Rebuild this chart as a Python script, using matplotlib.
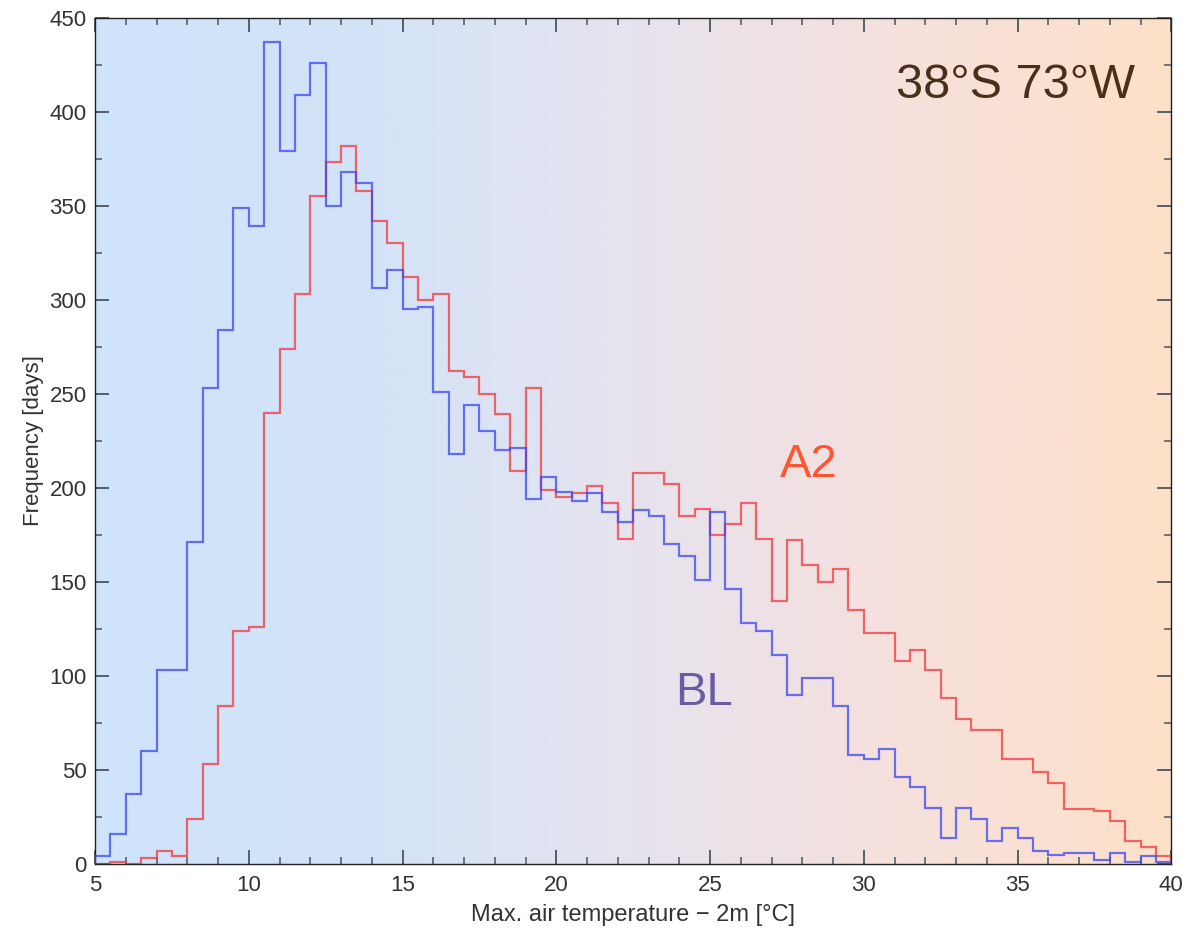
import numpy as np
import matplotlib
matplotlib.use("Agg")
import matplotlib.pyplot as plt
from matplotlib.colors import LinearSegmentedColormap
from matplotlib.ticker import MultipleLocator

plt.rcParams['font.family'] = ['Liberation Sans', 'DejaVu Sans']

# Histogram bins: 0.5 °C wide, from 5 to 40 °C
bin_edges = np.arange(5.0, 40.0 + 0.25, 0.5)

# Baseline (BL) daily max temperature frequencies
bl_counts = [4, 16, 37, 60, 103, 103, 171, 253, 284, 349,
             339, 437, 379, 409, 426, 350, 368, 362, 306, 316,
             295, 296, 251, 218, 244, 230, 220, 221, 194, 206,
             198, 193, 197, 187, 182, 188, 185, 170, 164, 151,
             187, 146, 128, 124, 111, 90, 99, 99, 84, 58,
             56, 61, 46, 41, 30, 14, 30, 24, 12, 19,
             14, 7, 5, 6, 6, 2, 6, 1, 4, 1]

# A2 scenario daily max temperature frequencies
a2_counts = [0, 1, 0, 3, 7, 4, 24, 53, 84, 124,
             126, 240, 274, 303, 355, 373, 382, 358, 342, 330,
             312, 300, 303, 262, 259, 250, 239, 209, 253, 199,
             195, 197, 201, 192, 173, 208, 208, 202, 185, 189,
             175, 181, 192, 173, 140, 172, 159, 150, 157, 135,
             123, 123, 108, 114, 103, 88, 77, 71, 71, 56,
             56, 49, 43, 29, 29, 28, 23, 12, 9, 4]

fig = plt.figure(figsize=(11.88, 9.3), dpi=100)
ax = fig.add_axes([0.080, 0.071, 0.906, 0.910])

# Cold-to-warm background gradient
bg = LinearSegmentedColormap.from_list(
    "bg", ["#cfe4fb", "#d3e3f8", "#e6e3ee", "#f6e0dc", "#fde0c8"])
grad = np.linspace(0, 1, 512).reshape(1, -1)
ax.imshow(grad, extent=[5, 40, 0, 450], aspect='auto', cmap=bg,
          origin='lower', zorder=0)

ax.stairs(a2_counts, bin_edges, color="#f0383c", alpha=0.75, lw=1.6, zorder=2)
ax.stairs(bl_counts, bin_edges, color="#3a46f2", alpha=0.75, lw=1.6, zorder=3)

ax.set_xlim(5, 40)
ax.set_ylim(0, 450)
ax.xaxis.set_major_locator(MultipleLocator(5))
ax.xaxis.set_minor_locator(MultipleLocator(1))
ax.yaxis.set_major_locator(MultipleLocator(50))
ax.yaxis.set_minor_locator(MultipleLocator(25))

axis_col = "#4a5560"
ax.tick_params(which='both', direction='in', top=True, right=True,
               color=axis_col, labelsize=16, labelcolor="#333333")
ax.tick_params(axis='y', pad=6)
ax.tick_params(axis='x', pad=8)
ax.tick_params(which='major', length=10, width=1.3)
ax.tick_params(which='minor', length=5, width=1.1)
for s in ax.spines.values():
    s.set_color("#222222")
    s.set_linewidth(1.0)

ax.set_xlabel("Max. air temperature \u2212 2m [°C]", fontsize=17, color="#333333", labelpad=6)
ax.set_ylabel("Frequency [days]", fontsize=16, color="#333333", labelpad=4)

ax.text(0.9665, 0.947, "38°S 73°W", transform=ax.transAxes, ha='right', va='top',
        fontsize=35, color="#4a3018")
ax.text(28.2, 212, "A2", ha='center', va='center', fontsize=34, color="#ff5533")
ax.text(24.8, 91, "BL", ha='center', va='center', fontsize=34, color="#6b5ba5")

fig.savefig("out.png", dpi=100)
